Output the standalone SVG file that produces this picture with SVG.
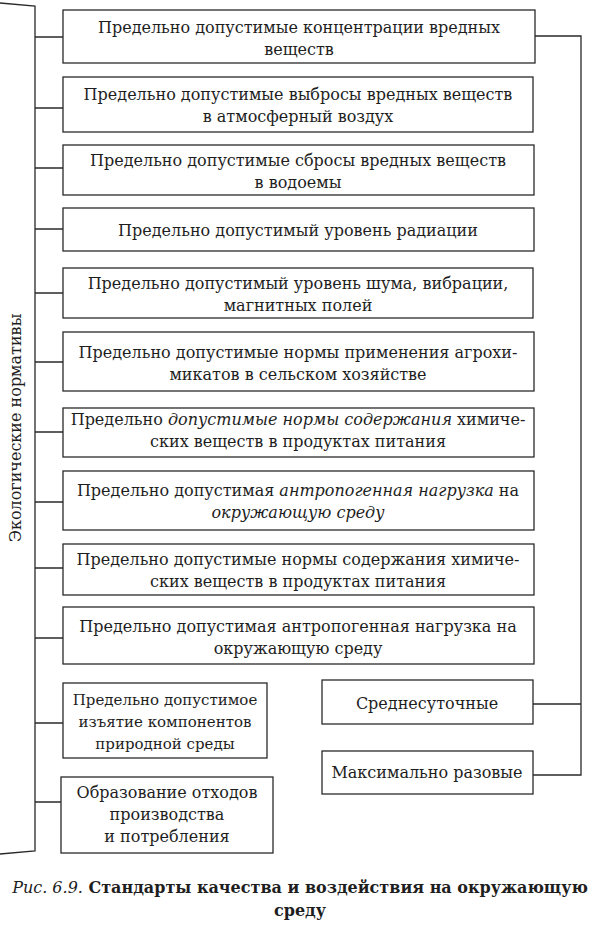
<svg xmlns="http://www.w3.org/2000/svg" width="600" height="936" viewBox="0 0 600 936">
<style>
.box{fill:#fff;stroke:#2a2a2a;stroke-width:1.3}
.ln{fill:none;stroke:#2a2a2a;stroke-width:1.3}
text{font-family:"DejaVu Serif",serif;font-size:16px;fill:#1e1e1e;text-anchor:middle}
.it{font-style:italic}
.cap{font-weight:bold}
.sm{font-size:15px}
</style>
<rect width="600" height="936" fill="#fff"/>
<g id="connectors">
<path class="ln" d="M0,3 L35,6 L35,851 L0,854"/>
<path class="ln" d="M35,37 H63 M35,108 H63 M35,168 H63 M35,229 H63 M35,293 H63 M35,362 H63 M35,432 H63 M35,502 H63 M35,568 H63 M35,638 H63 M35,723 H63 M35,802 H61"/>
<path class="ln" d="M535,36 H581 V775 H533 M533,704 H581"/>
</g>
<g id="label"><text transform="translate(21,428) rotate(-90)">Экологические нормативы</text></g>
<g id="n1"><rect class="box" x="63" y="10" width="472" height="53"/><text x="299" y="33">Предельно допустимые концентрации вредных</text><text x="299" y="55">веществ</text></g>
<g id="n2"><rect class="box" x="63" y="77" width="470" height="55"/><text x="298" y="100">Предельно допустимые выбросы вредных веществ</text><text x="298" y="122">в атмосферный воздух</text></g>
<g id="n3"><rect class="box" x="63" y="145" width="471" height="50"/><text x="298" y="166">Предельно допустимые сбросы вредных веществ</text><text x="298" y="188">в водоемы</text></g>
<g id="n4"><rect class="box" x="63" y="208" width="471" height="43"/><text x="298" y="236">Предельно допустимый уровень радиации</text></g>
<g id="n5"><rect class="box" x="63" y="268" width="470" height="50"/><text x="298" y="289">Предельно допустимый уровень шума, вибрации,</text><text x="298" y="311">магнитных полей</text></g>
<g id="n6"><rect class="box" x="63" y="332" width="471" height="59"/><text x="298" y="358">Предельно допустимые нормы применения агрохи-</text><text x="298" y="380">микатов в сельском хозяйстве</text></g>
<g id="n7"><rect class="box" x="63" y="408" width="471" height="49"/><text x="298" y="425">Предельно <tspan class="it">допустимые нормы содержания</tspan> химиче-</text><text x="298" y="447">ских веществ в продуктах питания</text></g>
<g id="n8"><rect class="box" x="63" y="471" width="471" height="59"/><text x="298" y="496">Предельно допустимая <tspan class="it">антропогенная нагрузка</tspan> на</text><text x="298" y="518" class="it">окружающую среду</text></g>
<g id="n9"><rect class="box" x="63" y="544" width="471" height="51"/><text x="298" y="565">Предельно допустимые нормы содержания химиче-</text><text x="298" y="587">ских веществ в продуктах питания</text></g>
<g id="n10"><rect class="box" x="63" y="607" width="471" height="57"/><text x="298" y="632">Предельно допустимая антропогенная нагрузка на</text><text x="298" y="654">окружающую среду</text></g>
<g id="n11"><rect class="box" x="63" y="683" width="204" height="75"/><text class="sm" x="165" y="705">Предельно допустимое</text><text class="sm" x="165" y="727">изъятие компонентов</text><text class="sm" x="165" y="749">природной среды</text></g>
<g id="n12"><rect class="box" x="61" y="777" width="212" height="76"/><text x="167" y="798">Образование отходов</text><text x="167" y="820">производства</text><text x="167" y="842">и потребления</text></g>
<g id="n13"><rect class="box" x="322" y="680" width="211" height="44"/><text x="427" y="709">Среднесуточные</text></g>
<g id="n14"><rect class="box" x="322" y="751" width="211" height="43"/><text x="427" y="778">Максимально разовые</text></g>
<g id="caption"><text x="300" y="893" class="cap"><tspan class="it" font-weight="normal">Рис. 6.9.</tspan> Стандарты качества и воздействия на окружающую</text><text x="300" y="916" class="cap">среду</text></g>
</svg>
